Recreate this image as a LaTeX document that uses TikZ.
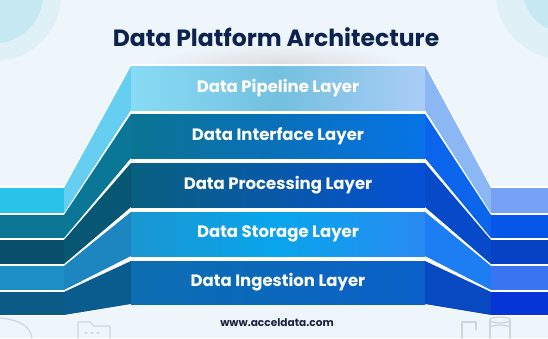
\documentclass[tikz,border=0pt]{standalone}
\usepackage{fontspec}
\setmainfont{Poppins}
\definecolor{bg}{HTML}{EEF5FB}
\definecolor{circA}{HTML}{C6E8F2}
\definecolor{circB}{HTML}{DFF0F7}
\definecolor{titlec}{HTML}{0C2350}
\definecolor{footc}{HTML}{1A2340}
\definecolor{deco}{HTML}{CDD5DD}
% layer a: pipeline
\definecolor{aLL}{HTML}{29C3EA}\definecolor{aLS}{HTML}{66CEF0}
\definecolor{aPL}{HTML}{88DBF5}\definecolor{aPM}{HTML}{74C0DF}\definecolor{aPR}{HTML}{AACDF7}
\definecolor{aRS}{HTML}{8CB7F5}\definecolor{aRL}{HTML}{76A1F4}
% layer b: interface
\definecolor{bLL}{HTML}{0B7593}\definecolor{bLS}{HTML}{0A7796}
\definecolor{bPL}{HTML}{0A7492}\definecolor{bPM}{HTML}{0970BA}\definecolor{bPR}{HTML}{0774E8}
\definecolor{bRS}{HTML}{0B64EC}\definecolor{bRL}{HTML}{0756EA}
% layer c: processing
\definecolor{cLL}{HTML}{064E6A}\definecolor{cLS}{HTML}{065674}
\definecolor{cPL}{HTML}{08607F}\definecolor{cPM}{HTML}{0759A8}\definecolor{cPR}{HTML}{0650D8}
\definecolor{cRS}{HTML}{0649C9}\definecolor{cRL}{HTML}{0543C4}
% layer d: storage
\definecolor{dLL}{HTML}{1C8FC5}\definecolor{dLS}{HTML}{1D86C0}
\definecolor{dPL}{HTML}{1A96D0}\definecolor{dPM}{HTML}{08A5EC}\definecolor{dPR}{HTML}{2A8AF2}
\definecolor{dRS}{HTML}{1D7DF2}\definecolor{dRL}{HTML}{3B74F0}
% layer e: ingestion
\definecolor{eLL}{HTML}{0A5B85}\definecolor{eLS}{HTML}{0B5C8E}
\definecolor{ePL}{HTML}{0C6EB0}\definecolor{ePM}{HTML}{0B68BC}\definecolor{ePR}{HTML}{0A60C8}
\definecolor{eRS}{HTML}{0849C2}\definecolor{eRL}{HTML}{0535D6}
\tikzset{
  layertext/.style={text=white, font=\fontsize{16.5}{19}\selectfont\bfseries, inner sep=0pt},
  decoline/.style={draw=deco, line width=1.2pt, line cap=round, line join=round},
}
% #1 panel top, #2 panel bottom, #3 ledge top, #4 ledge bottom, #5 colour prefix, #6 text, #7 node name
\newcommand\mylayer[7]{%
  \fill[#5LL] (0,#3) rectangle (64,#4);
  \fill[#5LS] (64,#3) -- (131,#1) -- (131,#2) -- (64,#4) -- cycle;
  \shade[left color=#5PL, right color=#5PR, middle color=#5PM] (131,#1) rectangle (425,#2);
  \fill[#5RS] (425,#1) -- (491,#3) -- (491,#4) -- (425,#2) -- cycle;
  \fill[#5RL] (491,#3) rectangle (548,#4);
  \node[layertext] (#7) at (278,{(#1+#2)/2}) {#6};
}
\begin{document}
\begin{tikzpicture}[x=1pt,y=-1pt]
\useasboundingbox (0,0) rectangle (548,338);
\fill[bg] (0,0) rectangle (548,338);
% corner decorations
\begin{scope}
\clip (0,0) rectangle (548,338);
\fill[circB] (-5,-5) circle (66);
\fill[circA] (-5,-5) circle (48);
\fill[circB] (565,-10) circle (70);
\fill[circA] (565,-10) circle (42);
% faint icons at the bottom
\draw[decoline] (0,318) .. controls (20,320) and (30,326) .. (32,338);
\draw[decoline] (78,338) -- (78,322) -- (90,322) -- (94,326) -- (110,326) -- (110,338);
\fill[deco] (86,333) circle (1.3) (92,333) circle (1.3) (98,333) circle (1.3);
\draw[decoline] (462,338) -- (462,322) -- (476,322) -- (476,330);
\draw[decoline] (500,320) ellipse (10 and 3);
\draw[decoline] (490,320) -- (490,338) (510,320) -- (510,338);
\draw[decoline] (490,328) arc[start angle=180,end angle=360,x radius=10,y radius=3];
\end{scope}
% soft shadow above the stack
\shade[inner color=black!14, outer color=bg] (278,66) ellipse (130 and 22);
% white backdrop giving the separators
\fill[white] (0,186) -- (64,186) -- (131,64) -- (425,64) -- (491,186) -- (548,186)
  -- (548,316) -- (491,316) -- (425,305) -- (131,305) -- (64,316) -- (0,316) -- cycle;
\mylayer{66}{110}{188}{213}{a}{Data Pipeline Layer}{pipeline}
\mylayer{114}{158}{215}{238}{b}{Data Interface Layer}{interface}
\mylayer{163}{207}{240}{264}{c}{Data Processing Layer}{processing}
\mylayer{212}{256}{266}{290}{d}{Data Storage Layer}{storage}
\mylayer{261}{304}{292}{315}{e}{Data Ingestion Layer}{ingestion}
\node[text=titlec, font=\fontsize{23.5}{27}\selectfont\bfseries, inner sep=0pt] (title) at (276,37) {Data Platform Architecture};
\node[text=footc, font=\fontsize{10.6}{12}\selectfont\bfseries, inner sep=0pt] (footer) at (277,323) {www.acceldata.com};
\end{tikzpicture}
\end{document}
